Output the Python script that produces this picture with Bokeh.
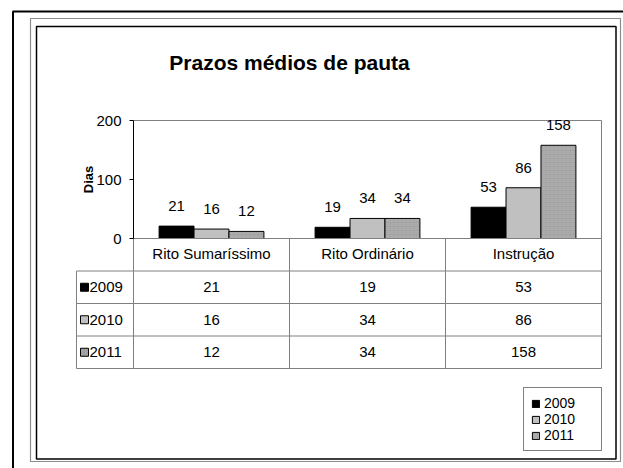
from bokeh.plotting import figure
from bokeh.models import (Range1d, LinearAxis, FixedTicker, ColumnDataSource,
                          Legend, LegendItem)
from bokeh.core.properties import value
from bokeh.embed import file_html
from bokeh.resources import INLINE

# ---------------- data ----------------
categories = ["Rito Sumaríssimo", "Rito Ordinário", "Instrução"]
series_names = ["2009", "2010", "2011"]
values_2009 = [21, 19, 53]
values_2010 = [16, 34, 86]
values_2011 = [12, 34, 158]
y_ticks = [0, 100, 200]
chart_title = "Prazos médios de pauta"
y_label = "Dias"

series_values = [values_2009, values_2010, values_2011]

# ---------------- layout / style ----------------
FONT = "Liberation Sans"
W, H = 623, 468
OX, OY = 0, 0                 # page offset of the canvas
PLOT_L, PLOT_R = 133, 601     # plot area (page px)
Y0_PX, YMAX_PX = 238, 120
Y_MAX = 200
ROW_H = 32.5
TABLE_L = 76
GRID = "#808080"
fills = ["#000000", "#c0c0c0", "#c8c8c8"]

n_cat = len(categories)
cat_w = (PLOT_R - PLOT_L) / n_cat
ppu = (Y0_PX - YMAX_PX) / Y_MAX

x_range = Range1d((OX - PLOT_L) / cat_w, (OX + W - PLOT_L) / cat_w)
y_range = Range1d((Y0_PX - (OY + H)) / ppu, (Y0_PX - OY) / ppu)

p = figure(width=W, height=H, x_range=x_range, y_range=y_range, title=None,
           output_backend="svg", toolbar_location=None, tools="",
           x_axis_location=None, y_axis_location=None)
p.min_border = 0
p.min_border_left = p.min_border_right = p.min_border_top = p.min_border_bottom = 0
p.outline_line_color = None
p.grid.visible = False
p.background_fill_color = "white"
p.border_fill_color = "white"

p.extra_y_ranges = {
    "table": Range1d(start=(OY + H - Y0_PX) / ROW_H, end=(OY - Y0_PX) / ROW_H),
    "px": Range1d(start=OY + H, end=OY),
}
p.extra_x_ranges = {"px": Range1d(start=OX, end=OX + W)}

# ---------------- decorative frames ----------------
p.segment(x0=[12.5, 12], y0=[11, 11], x1=[12.5, 623], y1=[468, 11],
          x_range_name="px", y_range_name="px", line_color="black", line_width=2)
p.quad(left=[30], right=[620], top=[18], bottom=[461], fill_color=None,
       line_color="#8c8c8c", line_width=1.2, x_range_name="px", y_range_name="px")
p.quad(left=[36], right=[615.5], top=[26], bottom=[458.5], fill_color=None,
       line_color="black", line_width=1.5, x_range_name="px", y_range_name="px")

# ---------------- title ----------------
p.text(x=[289], y=[62], text=[chart_title], x_range_name="px", y_range_name="px",
       text_align="center", text_baseline="middle", text_font=value(FONT),
       text_font_style="bold", text_font_size="21px", text_color="black")

# ---------------- plot area border ----------------
p.segment(x0=[0, n_cat], y0=[Y_MAX, 0], x1=[n_cat, n_cat], y1=[Y_MAX, Y_MAX],
          line_color=GRID, line_width=1)

# ---------------- bars ----------------
bar_w = 0.224
offsets = [-1, 0, 1]
HATCH = dict(hatch_pattern="spiral", hatch_color="#6a6a6a",
             hatch_scale=4, hatch_weight=0.7, hatch_alpha=0.6)
renderers = []
for k, (name, vals) in enumerate(zip(series_names, series_values)):
    xs = [i + 0.5 + offsets[k] * bar_w for i in range(n_cat)]
    src = ColumnDataSource(dict(x=xs, top=vals, label=[str(v) for v in vals]))
    extra = HATCH if k == 2 else {}
    r = p.vbar(x="x", top="top", bottom=0, width=bar_w, source=src,
               fill_color=fills[k], line_color="black", line_width=1, **extra)
    renderers.append(r)
    p.text(x="x", y="top", text="label", source=src, text_align="center",
           text_baseline="alphabetic", y_offset=-20, text_font=value(FONT),
           text_font_size="15px", text_color="black")

# ---------------- axes ----------------
yax = LinearAxis(fixed_location=0, bounds=(0, Y_MAX),
                 ticker=FixedTicker(ticks=y_ticks), axis_label=y_label)
yax.axis_line_color = "black"
yax.axis_line_width = 1
yax.major_tick_line_color = "black"
yax.major_tick_out = 4
yax.major_tick_in = 0
yax.minor_tick_line_color = None
yax.major_label_standoff = 8
yax.major_label_text_font = FONT
yax.major_label_text_font_size = "15px"
yax.major_label_text_color = "black"
yax.axis_label_text_font = FONT
yax.axis_label_text_font_style = "bold"
yax.axis_label_text_font_size = "13px"
yax.axis_label_text_color = "black"
yax.axis_label_standoff = -3
p.add_layout(yax, "left")

xax = LinearAxis(fixed_location=0, bounds=(0, n_cat),
                 ticker=FixedTicker(ticks=[i + 0.5 for i in range(n_cat)]),
                 major_label_overrides={i + 0.5: c for i, c in enumerate(categories)})
xax.axis_line_color = GRID
xax.major_tick_line_color = None
xax.minor_tick_line_color = None
xax.major_label_standoff = 0
xax.major_label_text_font = FONT
xax.major_label_text_font_size = "15px"
xax.major_label_text_color = "black"
p.add_layout(xax, "below")

# ---------------- data table ----------------
n_rows = len(series_names)
tl = (TABLE_L - PLOT_L) / cat_w
hy = list(range(1, n_rows + 2))
p.segment(x0=[tl] * len(hy), x1=[n_cat] * len(hy), y0=hy, y1=hy,
          y_range_name="table", line_color=GRID, line_width=1)
vx = list(range(0, n_cat + 1))
p.segment(x0=vx, x1=vx, y0=[0] * len(vx), y1=[n_rows + 1] * len(vx),
          y_range_name="table", line_color=GRID, line_width=1)
p.segment(x0=[tl], x1=[tl], y0=[1], y1=[n_rows + 1],
          y_range_name="table", line_color=GRID, line_width=1)

cx, cy, ct = [], [], []
for k, vals in enumerate(series_values):
    for i, v in enumerate(vals):
        cx.append(i + 0.5)
        cy.append(k + 1.5)
        ct.append(str(v))
p.text(x=cx, y=cy, text=ct, y_range_name="table", text_align="center",
       text_baseline="middle", text_font=value(FONT), text_font_size="15px",
       text_color="black")

key_x = (84 - PLOT_L) / cat_w
lab_x = (89 - PLOT_L) / cat_w
for k, name in enumerate(series_names):
    extra = dict(HATCH, hatch_scale=3) if k == 2 else {}
    p.scatter(x=[key_x], y=[k + 1.5], marker="square", size=8,
              y_range_name="table", fill_color=fills[k], line_color="black",
              line_width=1, **extra)
p.text(x=[lab_x] * n_rows, y=[k + 1.5 for k in range(n_rows)], text=series_names,
       y_range_name="table", text_align="left", text_baseline="middle",
       text_font=value(FONT), text_font_size="15px", text_color="black")

# ---------------- legend ----------------
legend = Legend(items=[LegendItem(label=n, renderers=[r])
                       for n, r in zip(series_names, renderers)],
                location=(523, H - 451))
legend.border_line_color = "black"
legend.border_line_width = 1
legend.background_fill_color = "white"
legend.background_fill_alpha = 1
legend.padding = 7
legend.margin = 0
legend.spacing = 0
legend.glyph_width = 9
legend.glyph_height = 9
legend.label_standoff = 4
legend.label_height = 15
legend.label_width = 50
legend.label_text_font = FONT
legend.label_text_font_size = "14px"
legend.label_text_color = "black"
p.add_layout(legend)

open("out.html", "w").write(file_html(p, INLINE))
